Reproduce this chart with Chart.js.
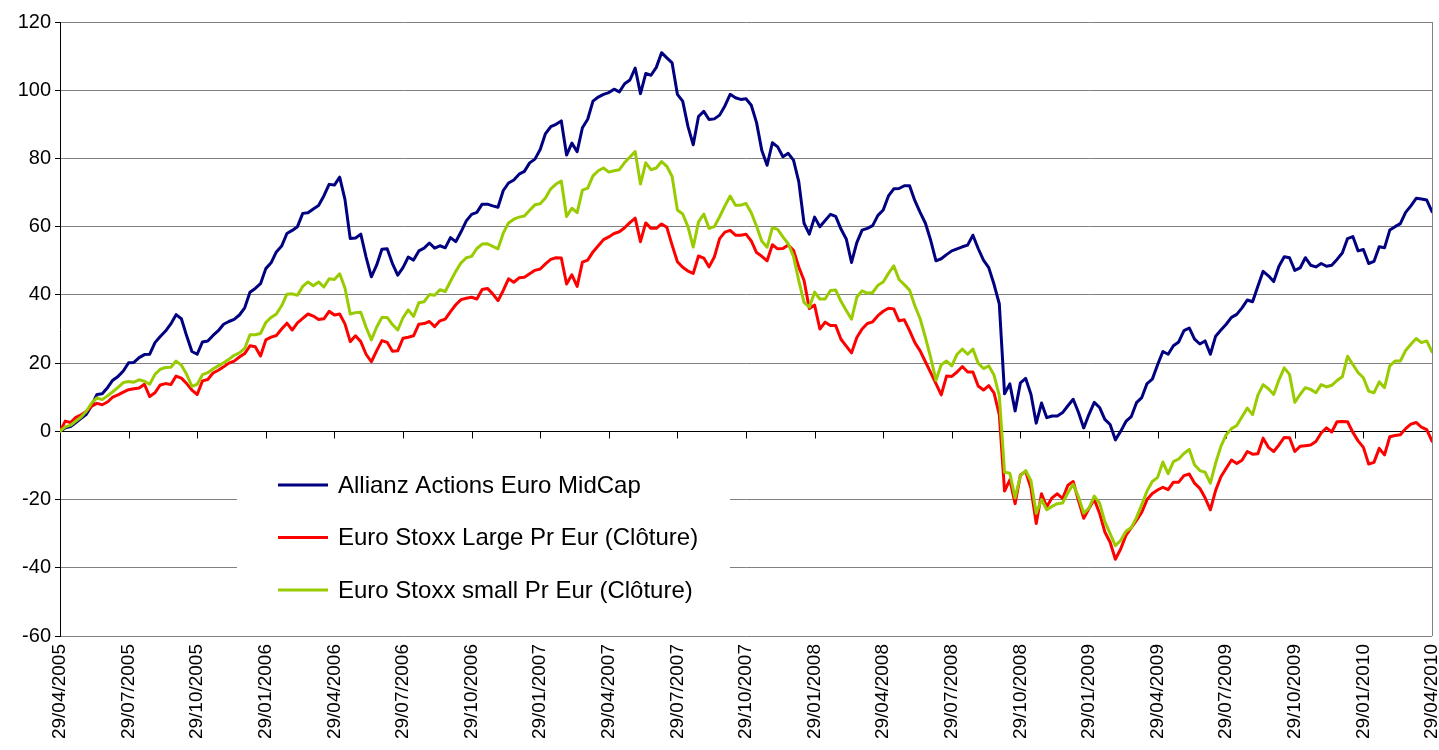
<!DOCTYPE html>
<html><head><meta charset="utf-8">
<script src="https://cdn.jsdelivr.net/npm/chart.js@4.4.1/dist/chart.umd.min.js"></script>
<style>html,body{margin:0;padding:0;background:#fff;}#wrap{width:1439px;height:750px;}</style>
</head><body><div id="wrap"><canvas id="c" width="1439" height="750"></canvas></div>
<script>
const tickLabels = ['29/04/2005','29/07/2005','29/10/2005','29/01/2006','29/04/2006','29/07/2006','29/10/2006',
  '29/01/2007','29/04/2007','29/07/2007','29/10/2007','29/01/2008','29/04/2008','29/07/2008','29/10/2008',
  '29/01/2009','29/04/2009','29/07/2009','29/10/2009','29/01/2010','29/04/2010'];
const weeksPerTick = 13;

const seriesNames = ['Allianz Actions Euro MidCap','Euro Stoxx Large Pr Eur (Clôture)','Euro Stoxx small Pr Eur (Clôture)'];

const allianz = [
 0,1.0,1.4,2.6,3.8,5.0,7.6,10.8,11.0,12.8,
 15.0,16.1,17.7,20.1,20.2,21.6,22.5,22.6,26.0,27.8,
 29.4,31.5,34.2,33.0,28.0,23.4,22.6,26.2,26.5,28.1,
 29.5,31.4,32.2,32.8,34.1,36.2,40.8,41.9,43.3,47.7,
 49.4,52.6,54.3,58.0,58.9,60.0,63.9,64.1,65.2,66.2,
 69.0,72.4,72.2,74.5,68.0,56.5,56.7,57.8,51.1,45.3,
 48.7,53.4,53.5,49.2,45.8,48.0,51.1,50.2,52.9,53.7,
 55.2,53.7,54.4,53.8,56.8,55.6,58.5,61.7,63.6,64.2,
 66.6,66.6,66.1,65.7,70.6,72.8,73.7,75.4,76.2,78.7,
 79.8,82.6,87.3,89.3,90.0,91.0,81.0,84.5,82.0,89.0,
 91.5,96.8,98.0,98.8,99.3,100.3,99.5,101.9,103.0,106.5,
 99.0,104.9,104.4,106.7,111.0,109.5,108.0,98.8,96.8,89.4,
 84.0,92.3,93.8,91.4,91.6,92.7,95.4,98.8,97.8,97.3,
 97.5,95.6,90.5,82.3,78.0,84.6,83.4,80.5,81.5,79.5,
 73.2,61.0,57.8,62.8,60.0,61.8,63.6,63.0,59.3,56.4,
 49.5,55.3,59.0,59.5,60.3,63.3,64.9,69.0,71.1,71.2,
 72.0,72.0,67.6,64.2,61.0,56.0,50.0,50.6,51.8,52.9,
 53.5,54.1,54.6,57.5,53.6,50.2,48.0,43.1,37.4,11.0,
 13.9,6.0,14.2,15.5,10.9,2.4,8.3,4.0,4.5,4.5,
 5.5,7.5,9.4,5.6,1.0,5.0,8.5,7.0,3.5,2.0,
 -2.5,0.0,2.9,4.3,8.4,9.9,14.0,15.3,19.5,23.4,
 22.6,25.1,26.2,29.5,30.3,27.0,25.6,26.5,22.6,27.9,
 29.7,31.4,33.4,34.3,36.2,38.5,38.0,42.5,46.9,45.6,
 43.9,48.4,51.2,50.9,47.2,47.9,50.9,48.7,48.2,49.2,
 48.4,48.7,50.4,52.3,56.5,57.1,52.9,53.3,49.2,49.8,
 54.1,53.8,59.0,60.0,60.9,64.2,66.1,68.3,68.1,67.8,
 64.4];

const stoxxLarge = [
 0,3.0,2.6,4.1,4.8,5.9,7.4,8.2,7.8,8.6,
 10.0,10.7,11.5,12.2,12.5,12.7,13.8,10.2,11.3,13.6,
 14.0,13.7,16.2,15.6,14.0,12.1,10.8,14.8,15.2,17.1,
 17.9,18.9,20.0,20.6,21.8,22.8,25.1,24.8,22.1,26.8,
 27.6,28.1,30.0,31.7,29.7,31.8,33.1,34.4,33.8,32.8,
 33.0,35.2,34.1,34.4,31.5,26.3,28.0,26.3,22.6,20.4,
 23.6,26.6,26.1,23.5,23.6,27.3,27.6,28.0,31.4,31.6,
 32.2,30.7,32.4,32.9,35.1,37.1,38.6,39.0,39.3,38.8,
 41.6,41.9,40.3,38.3,41.3,44.7,43.7,45.0,45.2,46.2,
 47.2,47.6,49.1,50.4,50.9,50.8,43.2,45.9,42.5,49.6,
 50.2,52.6,54.4,56.2,57.0,58.0,58.5,59.7,61.2,62.5,
 55.6,61.1,59.5,59.5,60.8,59.8,54.6,49.7,48.1,47.0,
 46.3,51.4,50.8,48.2,51.1,56.5,58.4,58.9,57.5,57.5,
 57.8,55.8,52.4,51.3,50.0,54.7,53.5,53.6,54.6,53.1,
 48.2,44.2,36.0,37.0,30.0,32.0,31.0,31.0,27.0,25.0,
 23.0,27.5,30.0,31.6,32.1,33.9,35.2,36.1,35.9,32.4,
 32.7,29.5,26.0,23.6,20.4,17.2,14.0,10.7,16.2,16.1,
 17.4,19.0,17.4,17.4,13.3,12.1,13.4,11.3,4.9,-17.5,
 -14.2,-21.2,-12.8,-11.8,-16.7,-27.0,-18.3,-22.1,-19.5,-18.3,
 -19.7,-15.8,-14.7,-20.2,-25.5,-22.6,-20.0,-24.0,-29.5,-32.5,
 -37.5,-34.5,-30.5,-28.3,-26.1,-23.7,-20.0,-18.2,-17.2,-16.4,
 -17.1,-14.9,-14.9,-13.0,-12.5,-15.2,-16.7,-19.5,-23.0,-17.3,
 -13.3,-10.8,-8.4,-9.4,-8.5,-5.9,-6.7,-6.6,-2.0,-4.7,
 -5.9,-4.0,-1.8,-1.9,-5.9,-4.4,-4.2,-4.0,-3.0,-0.5,
 1.0,-0.2,2.8,2.9,2.8,-0.3,-2.8,-4.7,-9.6,-9.1,
 -5.0,-6.9,-1.6,-1.2,-1.0,0.8,2.1,2.6,1.2,0.5,
 -2.9];

const stoxxSmall = [
 0,1.3,1.8,3.0,4.2,5.9,8.3,9.8,9.3,10.4,
 11.6,12.9,14.3,14.6,14.4,15.1,14.7,13.8,16.7,18.2,
 18.7,18.8,20.6,19.4,16.7,13.2,13.8,16.6,17.2,18.3,
 19.2,20.1,21.1,22.3,23.0,24.3,28.3,28.3,28.7,31.9,
 33.4,34.4,36.8,40.2,40.3,39.9,42.5,43.8,42.7,43.8,
 42.3,44.7,44.5,46.2,42.0,34.4,34.8,34.9,30.5,26.8,
 30.5,33.4,33.4,31.3,29.7,33.3,35.6,33.7,37.7,38.0,
 40.1,39.9,41.5,41.0,44.0,46.9,49.4,50.9,51.3,53.6,
 54.9,55.0,54.2,53.5,58.1,61.1,62.2,62.8,63.1,64.8,
 66.4,66.7,68.4,71.1,72.5,73.4,63.0,65.4,64.1,70.7,
 71.3,74.9,76.4,77.2,76.0,76.4,76.7,78.8,80.4,82.0,
 72.5,78.7,76.7,77.2,79.1,77.7,74.7,64.9,63.7,60.0,
 54.0,61.4,63.7,59.5,60.0,62.9,66.1,69.0,66.3,66.3,
 66.8,64.1,60.1,55.7,54.0,59.7,59.2,57.0,55.0,51.3,
 44.2,37.8,36.4,40.8,38.8,38.8,41.3,41.4,38.1,35.4,
 32.9,39.3,41.2,40.5,40.7,42.8,43.8,46.3,48.5,44.5,
 43.0,41.4,36.8,33.0,27.5,21.6,15.0,19.5,20.6,19.2,
 22.6,24.1,22.6,24.1,20.0,18.4,19.2,16.5,10.5,-12.0,
 -12.3,-19.5,-13.0,-11.5,-14.5,-24.0,-20.0,-23.0,-22.0,-21.2,
 -21.0,-18.0,-15.5,-19.2,-24.0,-22.5,-19.0,-21.0,-26.5,-30.0,
 -33.5,-32.0,-29.3,-28.3,-25.3,-21.5,-17.5,-14.7,-13.5,-9.0,
 -12.4,-8.9,-8.1,-6.5,-5.3,-9.8,-11.5,-12.0,-15.2,-9.3,
 -4.4,-1.0,0.8,1.7,4.3,6.8,4.9,10.6,13.7,12.5,
 10.8,15.1,18.6,16.7,8.5,10.8,12.8,12.3,11.3,13.7,
 13.0,13.5,14.9,16.0,22.0,19.6,17.2,15.7,11.8,11.3,
 14.5,12.8,19.2,20.6,20.6,23.7,25.5,27.2,26.0,26.5,
 23.3];

const FONT = "'Liberation Sans', Arial, sans-serif";
const toPoints = arr => arr.map((v, i) => ({x: i, y: v}));
const lastIndex = allianz.length - 1;

const zeroAxisTicks = {
  id: 'zeroAxisTicks',
  beforeDatasetsDraw(chart) {
    const {ctx, chartArea, scales: {x, y}} = chart;
    const y0 = Math.round(y.getPixelForValue(0)) + 0.5;
    ctx.save();
    ctx.strokeStyle = '#000';
    ctx.lineWidth = 1;
    ctx.beginPath();
    x.ticks.forEach(t => {
      const px = Math.round(x.getPixelForValue(t.value)) + 0.5;
      ctx.moveTo(px, y0); ctx.lineTo(px, y0 + 7);
    });
    ctx.stroke();
    ctx.strokeStyle = '#808080';
    ctx.beginPath();
    const rx = Math.round(chartArea.right) + 0.5;
    ctx.moveTo(rx, chartArea.top); ctx.lineTo(rx, chartArea.bottom);
    ctx.stroke();
    ctx.restore();
  }
};

const insetLegend = {
  id: 'insetLegend',
  afterDraw(chart, args, o) {
    const {ctx} = chart;
    ctx.save();
    ctx.fillStyle = '#fff';
    ctx.fillRect(o.left, o.top, o.width, o.height);
    chart.data.datasets.forEach((ds, i) => {
      const yy = o.top + o.firstRow + i * o.rowGap;
      ctx.strokeStyle = ds.borderColor;
      ctx.lineWidth = 3;
      ctx.beginPath(); ctx.moveTo(o.lineX0, yy); ctx.lineTo(o.lineX1, yy); ctx.stroke();
      ctx.fillStyle = '#000';
      ctx.font = o.font;
      ctx.textBaseline = 'middle';
      ctx.textAlign = 'left';
      ctx.fillText(ds.label, o.textX, yy + 1);
    });
    ctx.restore();
  }
};

new Chart(document.getElementById('c'), {
  type: 'line',
  data: {
    datasets: [
      {label: seriesNames[0], data: toPoints(allianz), borderColor: '#000080', order: 3},
      {label: seriesNames[1], data: toPoints(stoxxLarge), borderColor: '#FF0000', order: 2},
      {label: seriesNames[2], data: toPoints(stoxxSmall), borderColor: '#99CC00', order: 1}
    ]
  },
  options: {
    responsive: false,
    animation: false,
    devicePixelRatio: 1,
    layout: {padding: {top: 22, right: 7, left: 0, bottom: 0}},
    elements: {
      line: {borderWidth: 3, tension: 0, borderJoinStyle: 'round', borderCapStyle: 'round', fill: false},
      point: {radius: 0, hoverRadius: 0}
    },
    plugins: {
      legend: {display: false},
      tooltip: {enabled: false},
      insetLegend: {left: 237, top: 447, width: 493, height: 178, firstRow: 38, rowGap: 52.5,
        lineX0: 278, lineX1: 328, textX: 338, font: '24px ' + FONT}
    },
    scales: {
      x: {
        type: 'linear', min: 0, max: lastIndex, position: 'bottom',
        grid: {display: false, drawTicks: false},
        border: {display: false},
        ticks: {
          stepSize: weeksPerTick, autoSkip: false, minRotation: 90, maxRotation: 90, padding: 8,
          color: '#000', font: {family: FONT, size: 19},
          callback: v => tickLabels[Math.round(v / weeksPerTick)]
        },
        afterFit: s => { s.height = 114; s.paddingLeft = 0; s.paddingRight = 0; }
      },
      y: {
        min: -60, max: 120,
        grid: {color: c => c.tick && c.tick.value === 0 ? '#000' : '#808080', tickLength: 5, tickColor: '#000'},
        border: {display: true, color: '#000'},
        ticks: {stepSize: 20, padding: 4, color: '#000', font: {family: FONT, size: 20}},
        afterFit: s => { s.width = 60; s.paddingTop = 0; s.paddingBottom = 0; }
      }
    }
  },
  plugins: [zeroAxisTicks, insetLegend]
});
</script></body></html>
